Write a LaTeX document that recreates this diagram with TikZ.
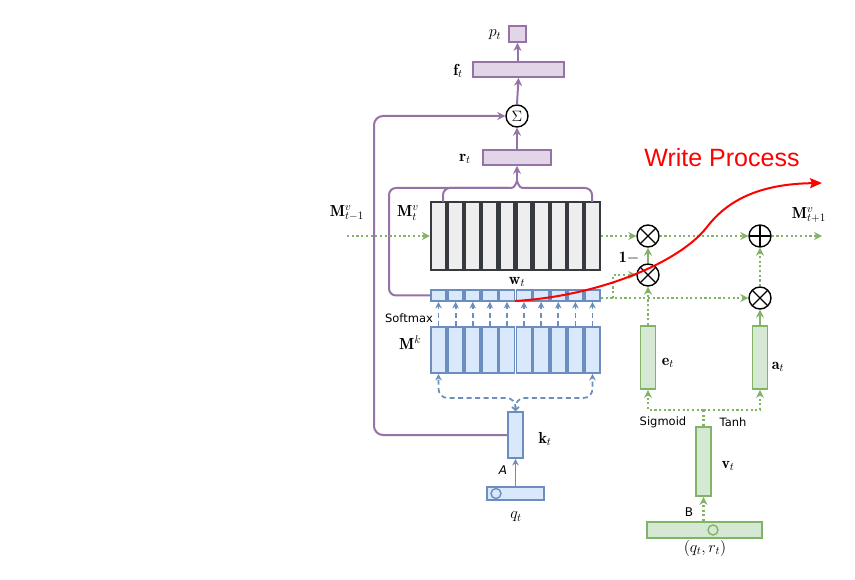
\RequirePackage{fix-cm}
\documentclass[tikz,border=0pt]{standalone}
\usepackage{fontspec}
\newfontfamily\labfont{DejaVu Sans}
\newfontfamily\wpfont{Liberation Sans}
\usetikzlibrary{arrows.meta,calc}
\definecolor{pline}{HTML}{9673A6}\definecolor{pfill}{HTML}{E1D5E7}
\definecolor{bline}{HTML}{6C8EBF}\definecolor{bfill}{HTML}{DAE8FC}
\definecolor{gline}{HTML}{82B366}\definecolor{gfill}{HTML}{D5E8D4}
\definecolor{mline}{HTML}{36393D}\definecolor{mfill}{HTML}{EEEEEE}
\tikzset{
  lab/.style={font=\fontsize{16}{18}\selectfont, inner sep=1pt},
  sanslab/.style={font=\labfont\fontsize{11.5}{13}\selectfont, inner sep=1pt},
  arr/.style={-{Stealth[length=8pt,width=8pt,inset=2.5pt]}},
  sarr/.style={-{Stealth[length=6.5pt,width=6.5pt,inset=2pt]}},
  pl/.style={draw=pline, line width=2pt},
  bl/.style={draw=bline, line width=1.7pt, dash pattern=on 5pt off 3.5pt},
  gd/.style={draw=gline, line width=2.3pt, dash pattern=on 2.2pt off 2.5pt},
  gs/.style={draw=gline, line width=2.2pt},
  pbox/.style={rectangle, draw=pline, fill=pfill, line width=1.8pt, inner sep=0},
  bbox/.style={rectangle, draw=bline, fill=bfill, line width=1.8pt, inner sep=0},
  gbox/.style={rectangle, draw=gline, fill=gfill, line width=1.8pt, inner sep=0},
  mvcol/.style={rectangle, draw=mline, fill=mfill, line width=2.2pt, inner sep=0, minimum width=15pt, minimum height=68pt},
  wcol/.style={bbox, minimum width=15.2pt, minimum height=11pt},
  kcol/.style={bbox, minimum width=15.2pt, minimum height=46pt},
  opc/.style={circle, draw=black, fill=white, line width=1.4pt, minimum size=22pt, inner sep=0},
  otimes/.style={opc, path picture={
      \draw[line width=1.4pt] (path picture bounding box.north east) -- (path picture bounding box.south west);
      \draw[line width=1.4pt] (path picture bounding box.north west) -- (path picture bounding box.south east);}},
  oplus/.style={opc, path picture={
      \draw[line width=1.4pt] (path picture bounding box.north) -- (path picture bounding box.south);
      \draw[line width=1.4pt] (path picture bounding box.west) -- (path picture bounding box.east);}},
}
\begin{document}
\begin{tikzpicture}[x=1pt,y=-1pt]
\useasboundingbox[fill=white] (0,0) rectangle (855,580);

% ---------- read head (purple) ----------
\node[pbox, minimum width=17pt, minimum height=16pt] (pbox) at (517.5,34) {};
\node[pbox, minimum width=91pt, minimum height=15pt] (fbox) at (518.5,69.5) {};
\node[opc, font=\fontsize{15}{16}\selectfont] (sig) at (517,116) {$\Sigma$};
\node[pbox, minimum width=68pt, minimum height=15pt] (rbox) at (517,157.5) {};
\node[lab] (plab) at (495,35) {$p_t$};
\node[lab] (flab) at (458,71) {$\mathbf{f}_t$};
\node[lab] (rlab) at (465,159) {$\mathbf{r}_t$};
\draw[pl,arr] (rbox.north) -- (sig.south);
\draw[pl,arr] (sig.north) -- (fbox.south);
\draw[pl,arr] (fbox.north -| pbox) -- (pbox.south);

% ---------- memory value matrix ----------
\foreach \i in {0,...,9}{
  \node[mvcol] (mv\i) at ({438.55+17.1*\i},236) {};
  \node[wcol] (w\i) at ({438.55+17.1*\i},295.5) {};
  \node[kcol] (k\i) at ({438.55+17.1*\i},350) {};
}
\foreach \i in {0,...,9}{
  \draw[bl,sarr] (k\i.north) -- (w\i.south);
}
\node[lab] (mvtlab) at (408,213) {$\mathbf{M}^v_t$};
\node[lab] (mvplab) at (347,213) {$\mathbf{M}^v_{t-1}$};
\node[lab] (wlab) at (517,282) {$\mathbf{w}_t$};
\node[lab] (mklab) at (410,343) {$\mathbf{M}^k$};
\node[sanslab] (smlab) at (409,318) {Softmax};

% brace from memory / weights to r_t
\coordinate (btip) at (517,181);
\draw[pl, rounded corners=7pt] (w0.west) -| (389,188) -- (508,188);
\draw[pl, rounded corners=7pt] (443,202) |- (508,188);
\draw[pl, rounded corners=7pt] (592,202) |- (526,188);
\draw[pl] (508,188) .. controls (514,188) .. (btip) .. controls (520,188) .. (526,188);
\draw[pl,arr] (btip) -- (rbox.south);

% ---------- key ----------
\node[bbox, minimum width=15pt, minimum height=46pt] (kbox) at (515.5,435) {};
\node[bbox, minimum width=57pt, minimum height=13pt] (qbox) at (515.5,493.5) {};
\node[circle, draw=bline, line width=1.4pt, minimum size=10pt, inner sep=0] (qdot) at (496,493.5) {};
\node[lab] (klab) at (545,439) {$\mathbf{k}_t$};
\node[lab] (qlab) at (516,517) {$q_t$};
\node[sanslab, font=\labfont\itshape\fontsize{12}{14}\selectfont] (alab) at (503,470) {A};
\draw[draw=bline, line width=1.8pt, sarr] (qbox.north) -- (kbox.south);
\draw[bl, rounded corners=9pt, {Straight Barb[length=3pt,width=7pt]}-{Stealth[length=6.5pt,width=6.5pt,inset=2pt]}]
  (kbox.north) -- (515.5,398) -- (k0.south |- 0,398) -- (k0.south);
\draw[bl, rounded corners=9pt, sarr]
  (kbox.north) -- (515.5,398) -- (k9.south |- 0,398) -- (k9.south);

% long purple loop from k_t to Sigma
\draw[pl, arr, rounded corners=9pt] (kbox.west) -| (374,116) -- (sig.west);

% ---------- write part (green) ----------
\node[otimes] (mul1) at (648,236) {};
\node[otimes] (mul2) at (648,275) {};
\node[oplus] (oplus) at (760,236) {};
\node[otimes] (mul3) at (760,298) {};
\coordinate (min) at (347,236);
\coordinate (mout) at (822,236);
\draw[gd,arr] (min) -- (mv0.west);
\draw[gd,arr] (mv9.east) -- (mul1.west);
\draw[gd,arr] (mul1.east) -- (oplus.west);
\draw[gd,arr] (oplus.east) -- (mout);
\draw[gs,arr] (mul2.north) -- (mul1.south);
\draw[gd,arr] (mul3.north) -- (oplus.south);
\draw[gd,arr] (w9.east |- mul3) -- (mul3.west);
\coordinate (wbr) at (613,298);
\draw[gd,arr] (wbr) |- (mul2.west);
\node[lab] (mnlab) at (809,215) {$\mathbf{M}^v_{t+1}$};
\node[lab] (onelab) at (629,258) {$\mathbf{1}-$};

\node[gbox, minimum width=15pt, minimum height=63pt] (ebox) at (648,357.5) {};
\node[gbox, minimum width=15pt, minimum height=63pt] (abox) at (760,357.5) {};
\node[gbox, minimum width=15pt, minimum height=69pt] (vbox) at (703.5,461.5) {};
\node[gbox, minimum width=115pt, minimum height=16pt] (bbox) at (704.5,530) {};
\node[circle, draw=gline, line width=1.4pt, minimum size=10pt, inner sep=0] (bdot) at (713,530) {};
\draw[gd,arr] (ebox.north) -- (mul2.south);
\draw[gs,arr] (abox.north) -- (mul3.south);
\coordinate (split) at (703.5,410);
\draw[gd] (vbox.north) -- (split);
\draw[gd,arr] (split) -| (ebox.south);
\draw[gd,arr] (split) -| (abox.south);
\draw[gd,arr] (bbox.north -| vbox) -- (vbox.south);
\node[lab] (elab) at (668,363) {$\mathbf{e}_t$};
\node[lab] (alab2) at (778,367) {$\mathbf{a}_t$};
\node[lab] (vlab) at (728,466) {$\mathbf{v}_t$};
\node[lab] (qrlab) at (705,548) {$(q_t,r_t)$};
\node[sanslab] (sglab) at (663,422) {Sigmoid};
\node[sanslab] (thlab) at (733,422) {Tanh};
\node[sanslab, font=\labfont\fontsize{12}{14}\selectfont] (blab) at (689,512) {B};

% ---------- write process ----------
\node[text=red, font=\wpfont\fontsize{25}{30}\selectfont, inner sep=0] (wp) at (722,158) {Write Process};
\coordinate (rs) at (515,301);
\coordinate (rm) at (707,227);
\coordinate (re) at (822,183);
\draw[red, line width=2pt, -{Stealth[length=12pt,width=10pt,inset=2pt]}]
  (rs) .. controls (600,296) and (680,262) .. (rm) .. controls (727,201) and (758,184) .. (re);
\end{tikzpicture}
\end{document}
